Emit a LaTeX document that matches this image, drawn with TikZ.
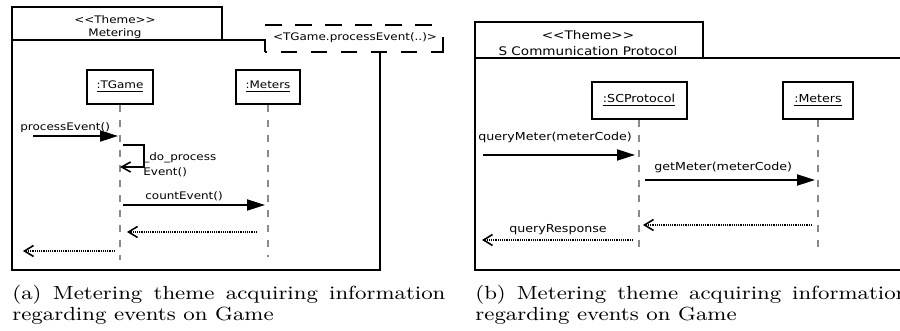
\documentclass[tikz,border=0pt]{standalone}
\usepackage{fontspec}
\usepackage{graphicx}
\usetikzlibrary{arrows.meta}
\newfontfamily\dv[FakeStretch=1.15]{DejaVu Sans}
\newfontfamily\capf[FakeStretch=1.17]{Latin Modern Roman}
\definecolor{lifegray}{HTML}{8A8A8A}
\begin{document}
\begin{tikzpicture}[x=0.5pt,y=-0.5pt,
  frame/.style={line width=1pt},
  lbl/.style={inner sep=0, font={\dv\fontsize{5.2}{6}\selectfont}},
  lblR/.style={inner sep=0, font={\dv\fontsize{5.5}{6}\selectfont}},
  tabR/.style={inner sep=0, font={\dv\fontsize{5.9}{6}\selectfont}},
  headbox/.style={draw, line width=1pt, inner sep=0},
  lifeline/.style={lifegray, line width=0.7pt, dash pattern=on 3.5pt off 4pt},
  sync/.style={line width=1pt, -{Triangle[length=9pt,width=5.5pt]}},
  ret/.style={line width=0.8pt, dash pattern=on 0.6pt off 0.5pt, -{Straight Barb[length=4.5pt,width=5.5pt,line width=0.8pt]}},
  selfmsg/.style={line width=1pt, -{Straight Barb[length=4.5pt,width=5pt,line width=0.8pt]}},
  caption/.style={inner sep=0, anchor=north west, text width=216.5pt, align=justify, font={\capf\fontsize{9.5}{10.5}\selectfont}}]
\useasboundingbox (0,0) rectangle (900,331);

% ---------------- left panel ----------------
\draw[frame] (12,7) rectangle (222,40);
\node[lbl] (lt1) at (115,20) {<<Theme>>};
\node[lbl] (lt2) at (115,33.5) {Metering};
\draw[frame] (12,40) -- (265,40) -- (265,52);
\draw[frame] (380,52) -- (380,270) -- (12,270) -- (12,40);
% dashed fragment box
\draw[frame, dash pattern=on 8.5pt off 6.5pt] (265,25) -- (443,25);
\draw[frame, dash pattern=on 8pt off 7pt, dash phase=-8pt] (265,52) -- (443,52);
\draw[frame] (443,37) -- (443,53);
\node[lbl] (frag) at (355,38) {<TGame.processEvent(..)>};

% lifelines
\node[headbox, minimum width=33pt, minimum height=17pt, lbl] (tgame) at (120,87) {\underline{:TGame}};
\node[headbox, minimum width=32pt, minimum height=17pt, lbl] (metL) at (268,87) {\underline{:Meters}};
\coordinate (tgameEnd) at (tgame.south |- 0,260);
\coordinate (metLEnd) at (metL.south |- 0,257);
\draw[lifeline] (tgame.south) -- (tgameEnd);
\draw[lifeline] (metL.south) -- (metLEnd);

% messages
\node[lbl, anchor=west] (pe) at (20,128) {processEvent()};
\coordinate (peS) at (33,136);
\coordinate (peE) at (118,136);
\draw[sync] (peS) -- (peE);

\coordinate (dpS) at (123,145);
\coordinate (dpA) at (144,145);
\coordinate (dpB) at (144,167);
\coordinate (dpE) at (120,167);
\draw[selfmsg] (dpS) -- (dpA) -- (dpB) -- (dpE);
\node[lbl, anchor=west, align=left, font={\dv\fontsize{5.2}{7.5}\selectfont}] (dp) at (143,164.5) {\_do\_process\\Event()};

\node[lbl, anchor=west] (ce) at (145,196) {countEvent()};
\coordinate (ceS) at (123,205);
\coordinate (ceE) at (265,205);
\draw[sync] (ceS) -- (ceE);

\coordinate (r1S) at (257,232);
\coordinate (r1E) at (127,232);
\draw[ret] (r1S) -- (r1E);

\coordinate (r2S) at (115,251);
\coordinate (r2E) at (23,251);
\draw[ret] (r2S) -- (r2E);

% ---------------- right panel ----------------
\draw[frame] (475,22) rectangle (703,58);
\node[tabR] (rt1) at (588,35) {<<Theme>>};
\node[tabR] (rt2) at (588,51) {S Communication Protocol};
\draw[frame] (910,58) -- (475,58) -- (475,270) -- (910,270);

\node[headbox, minimum width=47.5pt, minimum height=18.5pt, lblR] (scp) at (639,100.5) {\underline{:SCProtocol}};
\node[headbox, minimum width=35pt, minimum height=18.5pt, lblR] (metR) at (818,100.5) {\underline{:Meters}};
\coordinate (scpEnd) at (scp.south |- 0,253);
\coordinate (metREnd) at (metR.south |- 0,253);
\draw[lifeline] (scp.south) -- (scpEnd);
\draw[lifeline] (metR.south) -- (metREnd);

\node[lblR, anchor=west] (qm) at (478,137) {queryMeter(meterCode)};
\coordinate (qmS) at (483,155);
\coordinate (qmE) at (635,155);
\draw[sync] (qmS) -- (qmE);

\node[lblR, anchor=west] (gm) at (654,167) {getMeter(meterCode)};
\coordinate (gmS) at (645,180);
\coordinate (gmE) at (815,180);
\draw[sync] (gmS) -- (gmE);

\coordinate (r3S) at (812,225);
\coordinate (r3E) at (643,225);
\draw[ret] (r3S) -- (r3E);

\node[lblR, anchor=west] (qr) at (509,230) {queryResponse};
\coordinate (r4S) at (633,240);
\coordinate (r4E) at (482,240);
\draw[ret] (r4S) -- (r4E);

% ---------------- captions ----------------
\node[caption] (capA) at (12,285) {(a) Metering theme acquiring information regarding events on Game};
\node[caption] (capB) at (475,285) {(b) Metering theme acquiring information regarding events on Game};
\end{tikzpicture}
\end{document}
